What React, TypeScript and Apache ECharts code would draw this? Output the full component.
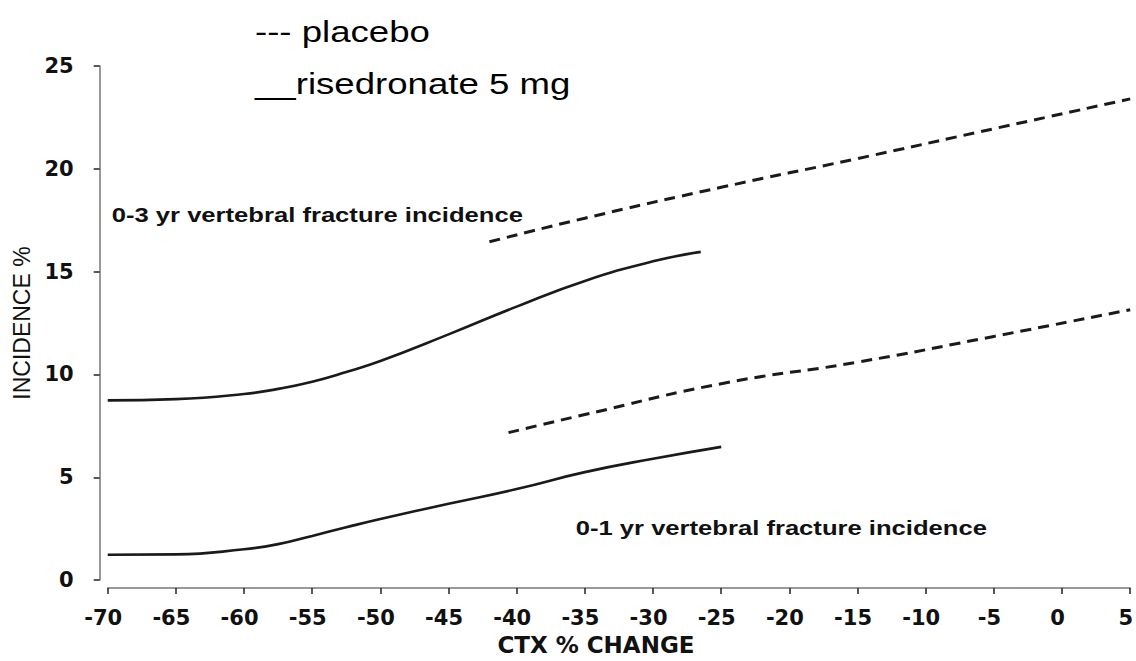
import React, { useEffect, useRef } from "react";
import * as echarts from "echarts";

// CTX % change (x) and incidence % (y)
const risedronate3X = [-70, -65, -60, -57.5, -55, -52.5, -50, -45, -40, -35, -30, -26.5];
const risedronate3Y = [8.74, 8.8, 9.05, 9.3, 9.65, 10.12, 10.65, 11.95, 13.3, 14.55, 15.5, 15.96];

const risedronate1X = [-70, -65, -60, -57.5, -55, -52.5, -50, -45, -40, -35, -30, -25];
const risedronate1Y = [1.23, 1.25, 1.5, 1.75, 2.15, 2.57, 2.97, 3.71, 4.43, 5.25, 5.9, 6.48];

const placebo3X = [-42, -35, -25, -15, -5, 5];
const placebo3Y = [16.45, 17.6, 19.1, 20.5, 21.95, 23.4];

const placebo1X = [-40.6, -35, -25, -15, -5, 5];
const placebo1Y = [7.17, 8.05, 9.55, 10.6, 11.85, 13.15];

const legendTexts = ["--- placebo", "__risedronate 5 mg"];
const annotationTexts = ["0-3 yr vertebral fracture incidence", "0-1 yr vertebral fracture incidence"];
const xAxisTitle = "CTX % CHANGE";
const yAxisTitle = "INCIDENCE %";

const pair = (xs: number[], ys: number[]) => xs.map((x, i) => [x, ys[i]]);

export default function App() {
  const ref = useRef<HTMLDivElement>(null);
  useEffect(() => {
    if (!ref.current) return;
    const chart = echarts.init(ref.current, null, { renderer: "svg" });
    const lineColor = "#1a1a1a";
    const labelFont = "'DejaVu Sans', sans-serif";
    const solid = { color: lineColor, width: 2.6, type: "solid" as const };
    const dashed = { color: lineColor, width: 3, type: [11, 7] as any };
    chart.setOption({
      animation: false,
      backgroundColor: "#ffffff",
      grid: { left: 107.7, right: 5.5, top: 66, bottom: 79, containLabel: false },
      xAxis: {
        type: "value",
        min: -70,
        max: 5,
        interval: 5,
        offset: 8,
        name: xAxisTitle,
        nameLocation: "middle",
        nameGap: 42,
        nameTextStyle: {
          fontFamily: labelFont,
          fontWeight: "bold",
          fontSize: 23,
          color: "#111",
          padding: [0, 46, 0, 0],
        },
        axisLine: { show: true, onZero: false, lineStyle: { color: "#777", width: 1.5 } },
        axisTick: { show: true, length: 6, lineStyle: { color: "#222", width: 1.5 } },
        axisLabel: {
          fontFamily: labelFont,
          fontWeight: "bold",
          fontSize: 21,
          color: "#111",
          margin: 19,
          padding: [0, 9, 0, 0],
        },
        splitLine: { show: false },
      },
      yAxis: {
        type: "value",
        min: 0,
        max: 25,
        interval: 5,
        offset: 8,
        name: yAxisTitle,
        nameLocation: "middle",
        nameRotate: 90,
        nameGap: 59,
        nameTextStyle: {
          fontFamily: "'Liberation Sans', Arial, sans-serif",
          fontSize: 23,
          color: "#111",
        },
        axisLine: { show: true, onZero: false, lineStyle: { color: "#777", width: 1.5 } },
        axisTick: { show: true, length: 6, lineStyle: { color: "#222", width: 1.5 } },
        axisLabel: {
          fontFamily: labelFont,
          fontWeight: "bold",
          fontSize: 21,
          color: "#111",
          margin: 26,
          padding: [8, 0, 0, 0],
        },
        splitLine: { show: false },
      },
      series: [
        {
          name: "risedronate 0-3",
          type: "line",
          data: pair(risedronate3X, risedronate3Y),
          smooth: true,
          showSymbol: false,
          lineStyle: solid,
        },
        {
          name: "risedronate 0-1",
          type: "line",
          data: pair(risedronate1X, risedronate1Y),
          smooth: true,
          showSymbol: false,
          lineStyle: solid,
        },
        {
          name: "placebo 0-3",
          type: "line",
          data: pair(placebo3X, placebo3Y),
          smooth: true,
          showSymbol: false,
          lineStyle: dashed,
        },
        {
          name: "placebo 0-1",
          type: "line",
          data: pair(placebo1X, placebo1Y),
          smooth: true,
          showSymbol: false,
          lineStyle: dashed,
        },
      ],
      graphic: [
        {
          type: "text",
          x: 255,
          y: 31.6,
          scaleX: 1.22,
          style: {
            text: legendTexts[0],
            fontFamily: "'Liberation Sans', Arial, sans-serif",
            fontSize: 30,
            fill: "#000",
            verticalAlign: "middle",
            align: "left",
          },
        },
        {
          type: "text",
          x: 255,
          y: 83.6,
          scaleX: 1.22,
          style: {
            text: legendTexts[1],
            fontFamily: "'Liberation Sans', Arial, sans-serif",
            fontSize: 30,
            fill: "#000",
            verticalAlign: "middle",
            align: "left",
          },
        },
        {
          type: "text",
          x: 111.7,
          y: 214.4,
          scaleX: 1.22,
          style: {
            text: annotationTexts[0],
            fontFamily: "'Liberation Sans', Arial, sans-serif",
            fontWeight: "bold",
            fontSize: 21,
            fill: "#111",
            verticalAlign: "middle",
            align: "left",
          },
        },
        {
          type: "text",
          x: 575.7,
          y: 527.7,
          scaleX: 1.22,
          style: {
            text: annotationTexts[1],
            fontFamily: "'Liberation Sans', Arial, sans-serif",
            fontWeight: "bold",
            fontSize: 21,
            fill: "#111",
            verticalAlign: "middle",
            align: "left",
          },
        },
      ],
    });
    return () => chart.dispose();
  }, []);
  return (
    <div
      ref={ref}
      style={{ position: "fixed", left: 0, top: 0, width: 1136, height: 661, background: "#fff" }}
    />
  );
}
